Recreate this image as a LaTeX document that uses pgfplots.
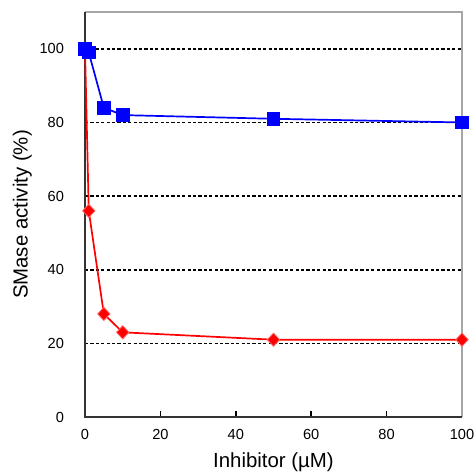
\documentclass[border=0pt]{standalone}
\usepackage{pgfplots}
\pgfplotsset{compat=1.18}
\usepackage{fontspec}
\setmainfont{Liberation Sans}
\begin{document}
\begin{tikzpicture}
\useasboundingbox (-42.5pt,-28pt) rectangle (195pt,208.5pt);
\begin{axis}[
  at={(0,0)}, anchor=south west,
  scale only axis, width=188.5pt, height=202.5pt,
  xmin=0, xmax=100, ymin=0, ymax=110,
  xtick={0,20,40,60,80,100},
  ytick={0,20,40,60,80,100},
  tick align=inside,
  major tick length=3pt,
  xtick pos=bottom, ytick pos=left,
  ytick style={draw=none},
  xtick style={black, line width=0.8pt},
  tick label style={font=\fontsize{7.3}{8}\selectfont},
  /pgf/number format/assume math mode=true,
  xticklabel style={yshift=-2.5pt},
  yticklabel style={xshift=-7pt},
  xlabel={Inhibitor (\textmu M)},
  ylabel={SMase activity (\%)},
  label style={font=\fontsize{10.2}{12}\selectfont},
  xlabel style={yshift=0pt},
  ylabel style={yshift=-3pt},
  axis line style={draw=none},
  clip=false,
]
% dashed grid
\pgfplotsinvokeforeach{20,40,60,80,100}{
  \draw[black, dashed, dash pattern=on 1.6pt off 1.1pt, line width=0.85pt] (axis cs:0,#1) -- (axis cs:100,#1);
}
% frame
\draw[gray!70, line width=0.7pt] (axis cs:0,110) -- (axis cs:100,110) -- (axis cs:100,0);
\draw[black!80, line width=1.4pt] (axis cs:100,0) -- (axis cs:0,0) -- (axis cs:0,110);
\addplot[red, line width=0.85pt, mark=diamond*, mark size=3.3pt,
  mark options={fill=red, draw=red!60!white, line width=0.4pt, xscale=1.25}]
  coordinates {(0,100) (1,56) (5,28) (10,23) (50,21) (100,21)};
\addplot[blue, line width=0.85pt, mark=square*, mark size=3pt,
  mark options={fill=blue, draw=blue}]
  coordinates {(0,100) (1,99) (5,84) (10,82) (50,81) (100,80)};
\end{axis}
\end{tikzpicture}
\end{document}
